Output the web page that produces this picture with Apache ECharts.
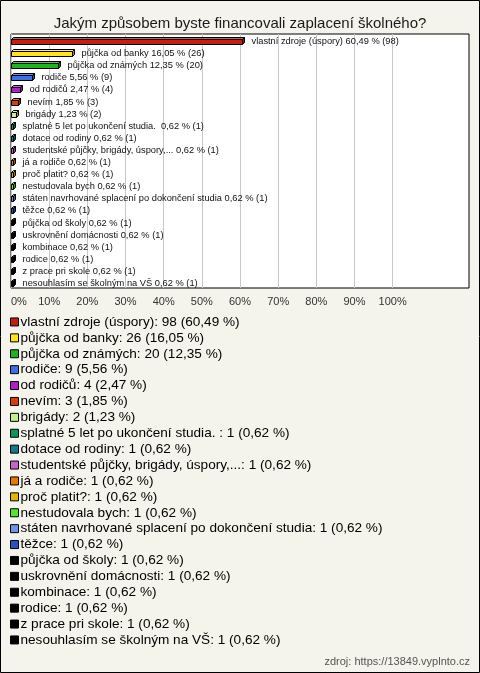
<!DOCTYPE html>
<html><head><meta charset="utf-8">
<script src="https://cdn.jsdelivr.net/npm/echarts@6/dist/echarts.min.js"></script>
<style>html,body{margin:0;padding:0;}#c{width:480px;height:673px;}</style>
</head><body><div id="c"></div>
<script>
const categories = [
  "vlastní zdroje (úspory)", "půjčka od banky", "půjčka od známých", "rodiče", "od rodičů", "nevím", "brigády",
  "splatné 5 let po ukončení studia. ", "dotace od rodiny", "studentské půjčky, brigády, úspory,...", "já a rodiče",
  "proč platit?", "nestudovala bych", "státen navrhované splacení po dokončení studia", "těžce", "půjčka od školy",
  "uskrovnění domácnosti", "kombinace", "rodice", "z prace pri skole", "nesouhlasím se školným na VŠ"
];
const counts = [98, 26, 20, 9, 4, 3, 2, 1, 1, 1, 1, 1, 1, 1, 1, 1, 1, 1, 1, 1, 1];
const percents = [60.49, 16.05, 12.35, 5.56, 2.47, 1.85, 1.23, 0.62, 0.62, 0.62, 0.62, 0.62, 0.62, 0.62, 0.62, 0.62, 0.62, 0.62, 0.62, 0.62, 0.62];
const xTicks = [0, 10, 20, 30, 40, 50, 60, 70, 80, 90, 100];
const palette = ["#c41e0e", "#ffe41a", "#1eb41e", "#3c6ee6", "#b41ec8", "#dc3c0a", "#c4f08c", "#0c965a", "#12788c",
  "#c864c8", "#e67800", "#e6b400", "#50e632", "#6e96e6", "#2850c8", "#000000", "#000000", "#000000", "#000000", "#000000", "#000000"];
</script>
<script>
const fmt = v => v.toFixed(2).replace('.', ',');
function shade(hex, f) {
  const n = parseInt(hex.slice(1), 16);
  let r = (n >> 16) & 255, g = (n >> 8) & 255, b = n & 255;
  if (f >= 0) { r = r + (255 - r) * f; g = g + (255 - g) * f; b = b + (255 - b) * f; }
  else { r = r * (1 + f); g = g * (1 + f); b = b * (1 + f); }
  return 'rgb(' + (r | 0) + ',' + (g | 0) + ',' + (b | 0) + ')';
}
const chart = echarts.init(document.getElementById('c'), null, { renderer: 'canvas' });
const series = categories.map((name, i) => ({
  type: 'custom',
  name: name,
  xAxisIndex: 0, yAxisIndex: 0,
  itemStyle: { color: palette[i] },
  data: [[percents[i], i]],
  renderItem: function (params, api) {
    const v = api.value(0), c = api.value(1);
    const p0 = api.coord([0, c]), p1 = api.coord([v, c]);
    const col = palette[i];
    const d = 2;
    const x0 = Math.round(p0[0]) + 0.5, x1 = Math.max(Math.round(p1[0]) + 0.5, x0 + 2);
    const y0 = Math.round(p0[1]) - 0.5, y1 = y0 + 5;
    const stroke = { stroke: '#000', lineWidth: 1 };
    return {
      type: 'group',
      children: [
        { type: 'polygon', shape: { points: [[x0, y0], [x0 + d, y0 - d], [x1 + d, y0 - d], [x1, y0]] }, style: Object.assign({ fill: shade(col, 0.25) }, stroke) },
        { type: 'polygon', shape: { points: [[x1, y0], [x1 + d, y0 - d], [x1 + d, y1 - d], [x1, y1]] }, style: Object.assign({ fill: shade(col, -0.35) }, stroke) },
        { type: 'rect', shape: { x: x0, y: y0, width: x1 - x0, height: y1 - y0 }, style: Object.assign({ fill: col }, stroke) },
        { type: 'text', style: { text: name.trimEnd() + (name.endsWith(' ') ? '  ' : ' ') + fmt(percents[i]) + ' % (' + counts[i] + ')', x: x1 + d + 7, y: p0[1] + 1.5, fill: '#111', fontSize: 9.3, fontFamily: 'Arial, Liberation Sans', verticalAlign: 'middle', align: 'left' } }
      ]
    };
  }
}));
const option = {
  animation: false,
  backgroundColor: '#f4f3ec',
  title: {
    text: 'Jakým způsobem byste financovali zaplacení školného?',
    left: 'center', top: 11,
    textStyle: { fontSize: 15, fontWeight: 'normal', color: '#1a1a1a', fontFamily: 'Arial, Liberation Sans' }
  },
  grid: {
    left: 11, top: 34, width: 458, height: 254,
    show: true, backgroundColor: '#ffffff', borderColor: '#000', borderWidth: 1,
    containLabel: false, outerBoundsMode: 'none'
  },
  xAxis: {
    type: 'value', min: 0, max: 120, interval: 10,
    axisLine: { show: false }, axisTick: { show: false },
    splitLine: { show: true, lineStyle: { color: ['#c8c8c8', '#c8c8c8', '#c8c8c8', '#c8c8c8', '#c8c8c8', '#c8c8c8', '#c8c8c8', '#c8c8c8', '#c8c8c8', '#c8c8c8', '#c8c8c8', 'rgba(0,0,0,0)', 'rgba(0,0,0,0)'], width: 1 } },
    axisLabel: {
      margin: 8, fontSize: 11, color: '#333', fontFamily: 'Arial, Liberation Sans', alignMinLabel: 'left',
      formatter: v => (xTicks.indexOf(v) >= 0 ? v + '%' : '')
    }
  },
  yAxis: {
    type: 'category', data: categories, inverse: true,
    axisLine: { show: false }, axisTick: { show: false }, axisLabel: { show: false }, splitLine: { show: false }
  },
  legend: {
    show: true, orient: 'vertical', left: 10, top: 314, padding: 0,
    selectedMode: false,
    icon: 'rect', itemWidth: 8, itemHeight: 8, itemGap: 0,
    itemStyle: { borderColor: '#000', borderWidth: 1 },
    textStyle: { fontSize: 13.6, lineHeight: 15.9, color: '#000', fontFamily: 'Arial, Liberation Sans', padding: [0, 0, 0, -3] },
    data: categories,
    formatter: function (name) {
      const i = categories.indexOf(name);
      return name + ': ' + counts[i] + ' (' + fmt(percents[i]) + ' %)';
    }
  },
  tooltip: { show: false },
  series: series,
  graphic: [
    { type: 'rect', shape: { x: 0.5, y: 0.5, width: 479, height: 672 }, style: { fill: 'none', stroke: '#000', lineWidth: 1 }, z: 100 },
    { type: 'text', x: 470, y: 662, style: { text: 'zdroj: https://13849.vyplnto.cz', fill: '#555', fontSize: 11, fontFamily: 'Arial, Liberation Sans', align: 'right', verticalAlign: 'middle' } }
  ]
};
chart.setOption(option);
</script>
</body></html>
